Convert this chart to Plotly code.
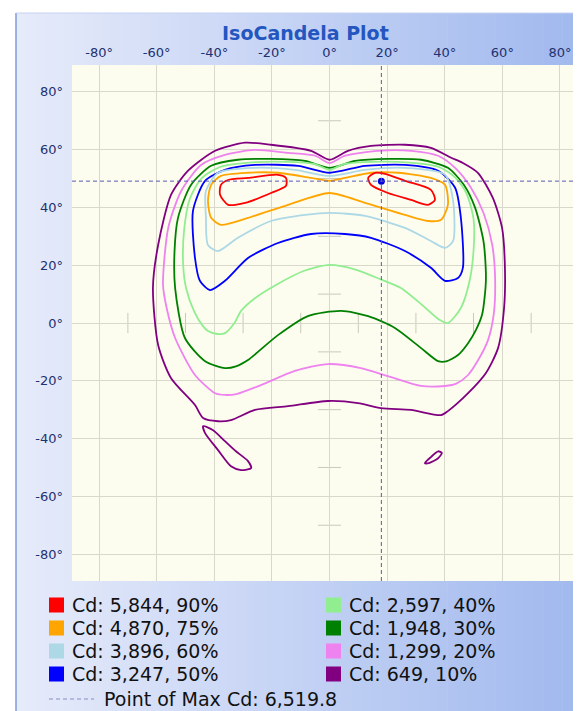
import plotly.graph_objects as go

# ---------------- data ----------------
tick_vals = [-80, -60, -40, -20, 0, 20, 40, 60, 80]
tick_text = [f"{v}°" for v in tick_vals]
minor_ticks = [-70, -50, -30, -10, 10, 30, 50, 70]

level_names = ["Cd: 5,844, 90%", "Cd: 4,870, 75%", "Cd: 3,896, 60%", "Cd: 3,247, 50%",
               "Cd: 2,597, 40%", "Cd: 1,948, 30%", "Cd: 1,299, 20%", "Cd: 649, 10%"]
level_colors = ["#ff0000", "#ffa500", "#add8e6", "#0000ff",
                "#90ee90", "#008000", "#ee82ee", "#800080"]

max_label = "Point of Max Cd: 6,519.8"
max_x = [18.0]
max_y = [49.1]

# 90% (two lobes)
cd90_a_x = [-37.7, -38.0, -35.2, -29.3, -20.3, -15.1, -15.1, -17.9, -28.3, -35.2, -37.7]
cd90_a_y = [47.8, 44.4, 40.9, 41.6, 45.0, 47.5, 50.2, 51.3, 50.2, 49.5, 47.8]
cd90_b_x = [15.8, 13.4, 14.4, 20.3, 28.3, 34.2, 36.6, 35.2, 26.2, 19.3, 15.8]
cd90_b_y = [52.0, 50.2, 47.8, 45.0, 42.6, 40.9, 42.6, 46.1, 49.2, 51.6, 52.0]

# 75%
cd75_x = [-42.2, -41.1, -37.7, -28.3, -14.4, 0.0, 12.3, 26.2, 34.2, 38.7, 41.1, 40.1,
          35.2, 23.8, 14.4, 5.4, 0.0, -6.4, -17.9, -28.3, -37.7, -41.1, -42.2]
cd75_y = [42.3, 36.4, 34.0, 36.4, 40.9, 45.0, 41.6, 37.4, 35.3, 35.7, 40.9, 47.8,
          50.2, 52.0, 52.0, 50.2, 49.2, 50.2, 52.0, 52.0, 50.9, 47.8, 42.3]

# 60%
cd60_x = [-42.9, -42.2, -38.7, -31.8, -20.3, -8.5, 0.0, 12.3, 26.2, 35.2, 40.1, 42.9,
          42.9, 40.1, 26.2, 12.3, 0.0, -12.0, -25.9, -38.7, -42.9, -42.9]
cd60_y = [36.4, 27.0, 24.9, 29.5, 35.3, 37.4, 38.1, 37.1, 32.9, 28.4, 26.0, 28.4,
          42.3, 51.3, 53.7, 53.0, 50.9, 53.0, 53.7, 52.0, 45.7, 36.4]

# 50%
cd50_x = [-47.4, -43.2, -36.3, -25.9, -10.9, 0.0, 12.3, 26.2, 37.7, 43.6, 45.6, 46.3,
          44.6, 40.1, 35.2, 26.2, 14.4, 5.4, -6.4, -17.9, -28.3, -36.3, -41.5, -45.0,
          -46.7, -47.4]
cd50_y = [38.8, 49.2, 53.0, 54.7, 54.4, 52.0, 54.4, 54.7, 52.7, 46.8, 36.4, 19.1,
          15.6, 14.6, 19.1, 24.9, 29.5, 30.8, 30.8, 27.7, 22.5, 14.6, 11.4, 14.6,
          22.5, 38.8]

# 40%
cd40_x = [-30.7, -26.0, -18.0, -9.0, 0.0, 9.0, 18.0, 24.8, 33.0, 38.0, 41.1, 45.6,
          48.5, 50.0, 50.0, 47.5, 43.5, 38.0, 28.0, 15.0, 5.0, 0.0, -5.0, -15.0,
          -28.0, -38.0, -44.5, -48.5, -50.5, -50.8, -49.8, -47.0, -44.0, -42.2,
          -39.0, -36.3, -33.0, -30.7]
cd40_y = [4.2, 8.5, 13.5, 18.0, 20.1, 18.5, 15.0, 12.1, 5.5, 1.2, 0.0, 5.2,
          14.0, 25.0, 36.0, 45.0, 50.5, 54.0, 55.5, 55.8, 55.0, 53.0, 55.0, 55.8,
          55.5, 54.0, 50.0, 43.0, 32.0, 20.0, 12.1, 4.0, -1.0, -2.8,
          -3.8, -3.5, 0.0, 4.2]

# 30%
cd30_x = [0.0, 8.9, 20.3, 31.8, 41.1, 46.5, 50.5, 53.5, 54.3, 53.0, 50.8, 48.1,
          44.6, 40.5, 37.7, 31.8, 22.7, 13.4, 4.0, -7.5, -17.9, -28.3, -32.5, -36.3,
          -43.2, -50.2, -53.6, -53.8, -52.6, -48.1, -41.1, -31.8, -20.3, -8.5, 0.0]
cd30_y = [53.7, 56.1, 56.8, 56.5, 53.7, 48.0, 40.0, 28.0, 15.0, 3.0, -2.5, -7.0,
          -11.1, -13.3, -13.2, -8.7, -1.7, 2.4, 4.2, 2.4, -4.2, -12.8, -15.0, -15.6,
          -13.2, -5.2, 12.1, 25.0, 36.4, 47.8, 54.4, 56.5, 56.8, 56.1, 53.7]

# 20%
cd20_x = [0.0, 5.4, 16.8, 28.3, 37.7, 43.6, 49.0, 53.5, 56.5, 57.5, 57.0, 55.0,
          51.5, 48.1, 44.0, 40.1, 31.8, 20.3, 10.9, -0.5, -12.0, -23.8, -32.0, -36.3,
          -39.7, -46.7, -53.6, -56.5, -57.8, -56.0, -51.5, -44.6, -36.3, -25.9, -14.4,
          -5.0, 0.0]
cd20_y = [55.4, 57.9, 59.6, 59.6, 57.9, 53.7, 47.0, 38.0, 27.0, 15.0, 3.0, -6.0,
          -13.0, -18.0, -21.0, -21.8, -21.8, -18.4, -15.6, -14.2, -16.6, -21.5, -24.5, -24.9,
          -24.3, -18.0, -5.2, 5.0, 13.2, 32.9, 45.7, 54.7, 58.2, 59.9, 58.9,
          57.9, 55.4]

# 10% (main loop + two small islands)
cd10_x = [0.0, 6.4, 14.4, 26.2, 35.2, 42.2, 46.3, 51.5, 56.7, 59.9, 60.9, 60.6,
          58.5, 54.3, 48.1, 41.1, 38.7, 28.3, 17.9, 9.9, -0.5, -14.4, -25.9, -34.2,
          -38.7, -43.9, -46.7, -55.0, -59.5, -61.3, -59.5, -55.0, -49.1, -39.7, -29.3,
          -20.3, -6.4, 0.0]
cd10_y = [56.5, 59.6, 61.3, 61.7, 60.6, 57.2, 55.4, 52.0, 43.3, 32.9, 19.0, 5.2,
          -8.7, -17.3, -24.3, -30.5, -31.9, -30.1, -29.5, -27.7, -27.0, -28.8, -30.1, -33.6,
          -34.0, -32.9, -28.4, -19.1, -7.6, 12.1, 27.0, 44.4, 52.7, 59.6, 62.4,
          61.7, 59.6, 56.5]
cd10_isl1_x = [-43.9, -43.2, -38.7, -34.2, -30.7, -27.2, -28.3, -32.5, -36.3, -40.4, -43.9]
cd10_isl1_y = [-35.7, -38.1, -44.0, -49.6, -50.9, -50.2, -47.8, -44.4, -40.9, -37.1, -35.7]
cd10_isl2_x = [33.1, 35.2, 37.7, 39.0, 37.7, 34.5, 33.1]
cd10_isl2_y = [-48.5, -46.4, -44.4, -45.0, -46.8, -48.5, -48.5]

# ---------------- figure ----------------
W, H = 581, 711
ML, MR, MT, MB = 64, 6, 57, 138
PW, PH = W - ML - MR, H - MT - MB


def pxx(px):
    return (px - ML) / PW


def pxy(py):
    return (H - MB - py) / PH


fig = go.Figure()

contours = [
    (7, [(cd10_x, cd10_y), (cd10_isl1_x, cd10_isl1_y), (cd10_isl2_x, cd10_isl2_y)]),
    (6, [(cd20_x, cd20_y)]),
    (5, [(cd30_x, cd30_y)]),
    (4, [(cd40_x, cd40_y)]),
    (3, [(cd50_x, cd50_y)]),
    (2, [(cd60_x, cd60_y)]),
    (1, [(cd75_x, cd75_y)]),
    (0, [(cd90_a_x, cd90_a_y), (cd90_b_x, cd90_b_y)]),
]
for idx, parts in contours:
    for xs, ys in parts:
        fig.add_trace(go.Scatter(x=xs, y=ys, mode="lines",
                                 line=dict(color=level_colors[idx], width=1.8,
                                           shape="spline", smoothing=0.7),
                                 name=level_names[idx], showlegend=False,
                                 hoverinfo="skip"))

fig.add_trace(go.Scatter(x=max_x, y=max_y, mode="markers",
                         marker=dict(color="#0000dd", size=7),
                         showlegend=False, hoverinfo="skip"))

shapes = []
# background gradient panel
N = 60
c0 = (230, 235, 250)
c1 = (160, 184, 238)
x_start, x_end = 8, W + 2
for i in range(N):
    t = i / (N - 1)
    col = tuple(round(c0[k] + (c1[k] - c0[k]) * t) for k in range(3))
    a = x_start + (x_end - x_start) * i / N
    b = x_start + (x_end - x_start) * (i + 1) / N + 0.6
    shapes.append(dict(type="rect", xref="paper", yref="paper", layer="below",
                       x0=pxx(a), x1=pxx(b), y0=pxy(H + 2), y1=pxy(5),
                       fillcolor="rgb(%d,%d,%d)" % col, line=dict(width=0)))
# panel border
shapes.append(dict(type="line", xref="paper", yref="paper", layer="below",
                   x0=pxx(8), x1=pxx(8), y0=pxy(5), y1=pxy(H + 2),
                   line=dict(color="#7f9bd8", width=1.5)))
shapes.append(dict(type="line", xref="paper", yref="paper", layer="below",
                   x0=pxx(8), x1=pxx(W + 2), y0=pxy(5), y1=pxy(5),
                   line=dict(color="#c6d2f2", width=1)))
# plot area background
shapes.append(dict(type="rect", xref="paper", yref="paper", layer="below",
                   x0=0, x1=1, y0=0, y1=1, fillcolor="#fdfdef",
                   line=dict(width=0)))
# small cross ticks along the centre axes
for v in minor_ticks:
    shapes.append(dict(type="line", xref="x", yref="y", layer="below",
                       x0=-4, x1=4, y0=v, y1=v,
                       line=dict(color="#c8c8bc", width=1)))
    shapes.append(dict(type="line", xref="x", yref="y", layer="below",
                       x0=v, x1=v, y0=-3.5, y1=3.5,
                       line=dict(color="#c8c8bc", width=1)))

# legend swatches and labels
legend_rows = [597, 620, 643, 666]
legend_cols = [(41, 62), (318, 339)]
sw = 15
annotations = []
for i, (name, col) in enumerate(zip(level_names, level_colors)):
    c = i // 4
    r = i % 4
    sx, tx = legend_cols[c]
    cy = legend_rows[r]
    shapes.append(dict(type="rect", xref="paper", yref="paper",
                       x0=pxx(sx), x1=pxx(sx + sw), y0=pxy(cy + sw / 2), y1=pxy(cy - sw / 2),
                       fillcolor=col, line=dict(width=0)))
    annotations.append(dict(xref="paper", yref="paper", x=pxx(tx), y=pxy(cy),
                            xanchor="left", yanchor="middle", showarrow=False,
                            text=name, font=dict(family="DejaVu Sans", size=19, color="#111111")))
max_row = 691
shapes.append(dict(type="line", xref="paper", yref="paper",
                   x0=pxx(41), x1=pxx(86), y0=pxy(max_row), y1=pxy(max_row),
                   line=dict(color="#8c8cc0", width=1.2, dash="4px,3px")))
annotations.append(dict(xref="paper", yref="paper", x=pxx(94), y=pxy(max_row),
                        xanchor="left", yanchor="middle", showarrow=False,
                        text=max_label, font=dict(family="DejaVu Sans", size=19, color="#111111")))
# title
annotations.append(dict(xref="paper", yref="paper", x=pxx(297), y=pxy(25),
                        xanchor="center", yanchor="middle", showarrow=False,
                        text="<b>IsoCandela Plot</b>",
                        font=dict(family="DejaVu Sans", size=19, color="#2456c0")))

fig.update_layout(shapes=shapes, annotations=annotations)

# max point crosshair
fig.add_hline(y=max_y[0], line=dict(color="#5a5ab4", width=1, dash="4px,3px"))
fig.add_vline(x=max_x[0], line=dict(color="#5a5ab4", width=1, dash="4px,3px"))

axis_font = dict(family="DejaVu Sans", size=13, color="#1e3170")
fig.update_xaxes(range=[-89.4, 88.0], side="top", tickvals=tick_vals, ticktext=tick_text,
                 showgrid=True, gridcolor="#d8d8cb", gridwidth=1, zeroline=False,
                 showline=False, ticks="", tickfont=axis_font, fixedrange=True,
                 ticklabelstandoff=4, automargin=False)
fig.update_yaxes(range=[-89.3, 89.3], tickvals=tick_vals, ticktext=tick_text,
                 showgrid=True, gridcolor="#d8d8cb", gridwidth=1, zeroline=False,
                 showline=False, ticks="", tickfont=axis_font, fixedrange=True,
                 ticklabelstandoff=8, automargin=False)

fig.update_layout(width=W, height=H, margin=dict(l=ML, r=MR, t=MT, b=MB, autoexpand=False),
                  paper_bgcolor="white", plot_bgcolor="#fdfdef", showlegend=False)

fig.write_html("out.html")
